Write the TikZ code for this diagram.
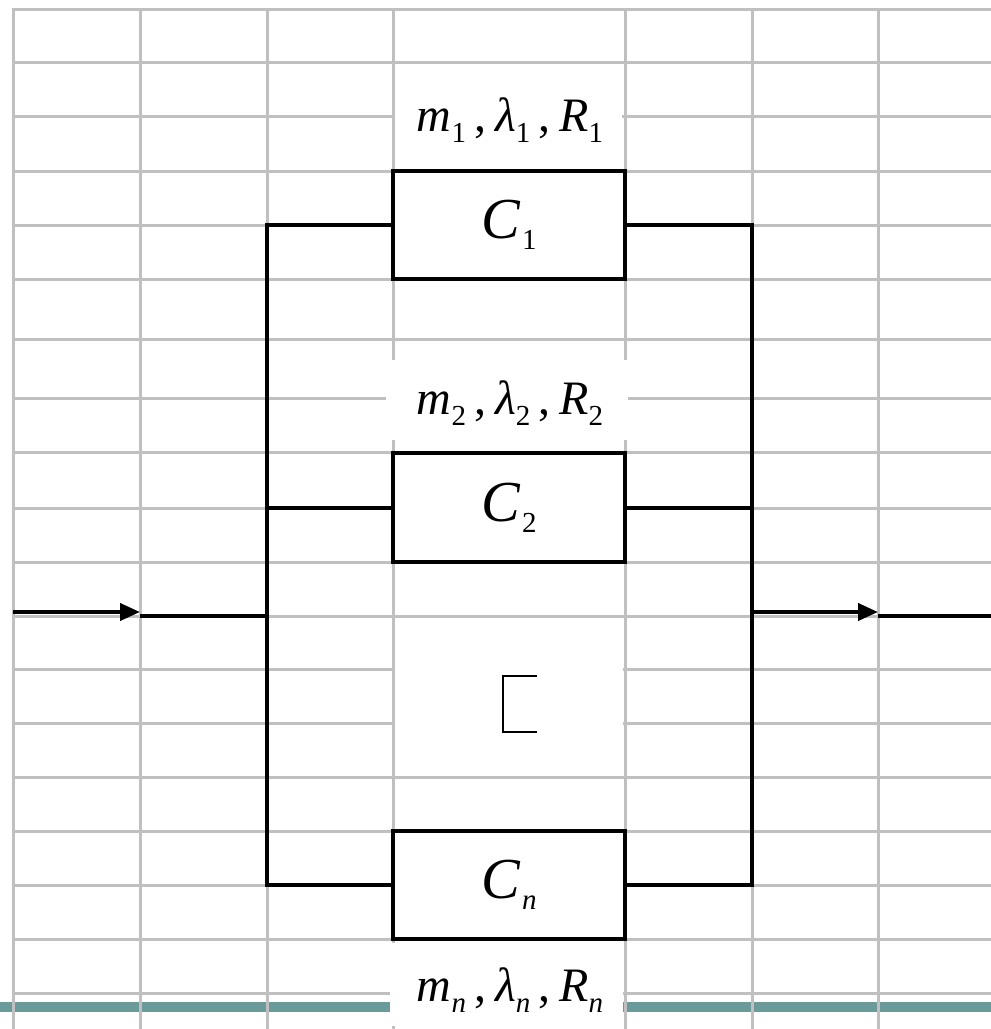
\documentclass[tikz,border=0pt]{standalone}
\usepackage{fontspec}
\setmainfont{Liberation Serif}
\usetikzlibrary{arrows.meta}
\definecolor{gridgray}{HTML}{C0C0C0}
\definecolor{barteal}{HTML}{6A9A99}
% lowered, smaller index
\newcommand{\idx}[2][11pt]{\raisebox{-#1}{\fontsize{29}{29}\selectfont\upshape #2}}
% parameter triple m_i, lambda_i, R_i
\newcommand{\params}[1]{{\fontsize{48}{48}\selectfont
  \itshape m\idx{#1}\hspace{8pt}\upshape,\hspace{9pt}\itshape λ\idx{#1}\hspace{8pt}\upshape,\hspace{9pt}\itshape R\idx{#1}}}
\newcommand{\unitname}[1]{{\fontsize{58}{58}\selectfont\itshape C\hspace{2pt}\idx[11pt]{#1}}}
\begin{document}
\begin{tikzpicture}[x=1pt,y=-1pt,
  gridline/.style={gridgray,line width=3pt},
  wire/.style={black,line width=4pt},
  unit/.style={draw,line width=4pt,fill=white,minimum width=232pt,minimum height=108pt,inner sep=0pt},
  param/.style={anchor=base,inner sep=0pt},
  tip/.style={-{Triangle[length=20pt,width=17pt]}}]
\useasboundingbox (0,0) rectangle (991,1029);

% bottom bar
\fill[barteal] (0,1002) rectangle (991,1012);

% background grid
\foreach \x in {13,140,267,393,625,752,878}
  \draw[gridline] (\x,9) -- (\x,1029);
\foreach \y in {9,62,116,171,225,279,339,398,452,508,562,616,669,723,777,831,885,939,993}
  \draw[gridline] (11.5,\y) -- (991,\y);

% blank areas behind the labels and the gap
\fill[white] (395,95) rectangle (622,140);
\fill[white] (386,360) rectangle (628,440);
\fill[white] (395,640) rectangle (623,760);
\fill[white] (390,943) rectangle (623,1026);

% components
\node[unit] (c1) at (509,225) {\unitname{1}};
\node[unit,minimum height=109pt] (c2) at (509,507.5) {\unitname{2}};
\node[unit] (cn) at (509,885) {\unitname{\itshape n}};

% parameter labels
\node[param] (p1) at (510,131) {\params{1}};
\node[param] (p2) at (510,414) {\params{2}};
\node[param] (pn) at (510,1001) {\params{\itshape n}};

% bus junctions
\coordinate (l1) at (267,225);
\coordinate (l2) at (267,507.5);
\coordinate (ln) at (267,885);
\coordinate (lm) at (267,616);
\coordinate (r1) at (752,225);
\coordinate (r2) at (752,507.5);
\coordinate (rn) at (752,885);
\coordinate (rm) at (750,612);
% input and output ends
\coordinate (in0) at (13,612);
\coordinate (in1) at (140,612);
\coordinate (in2) at (140,616);
\coordinate (out1) at (878,612);
\coordinate (out2) at (878,616);
\coordinate (out3) at (991,616);

% parallel branches
\draw[wire] (c1.west) -- (l1) -- (ln) -- (cn.west);
\draw[wire] (c2.west) -- (l2);
\draw[wire] (c1.east) -- (r1) -- (rn) -- (cn.east);
\draw[wire] (c2.east) -- (r2);

% input and output
\draw[wire,tip] (in0) -- (in1);
\draw[wire] (in2) -- (lm);
\draw[wire,tip] (rm) -- (out1);
\draw[wire] (out2) -- (out3);

% ellipsis mark between branches
\draw[line width=1.3pt] (537,676) -- (503,676) -- (503,732) -- (537,732);
\end{tikzpicture}
\end{document}
